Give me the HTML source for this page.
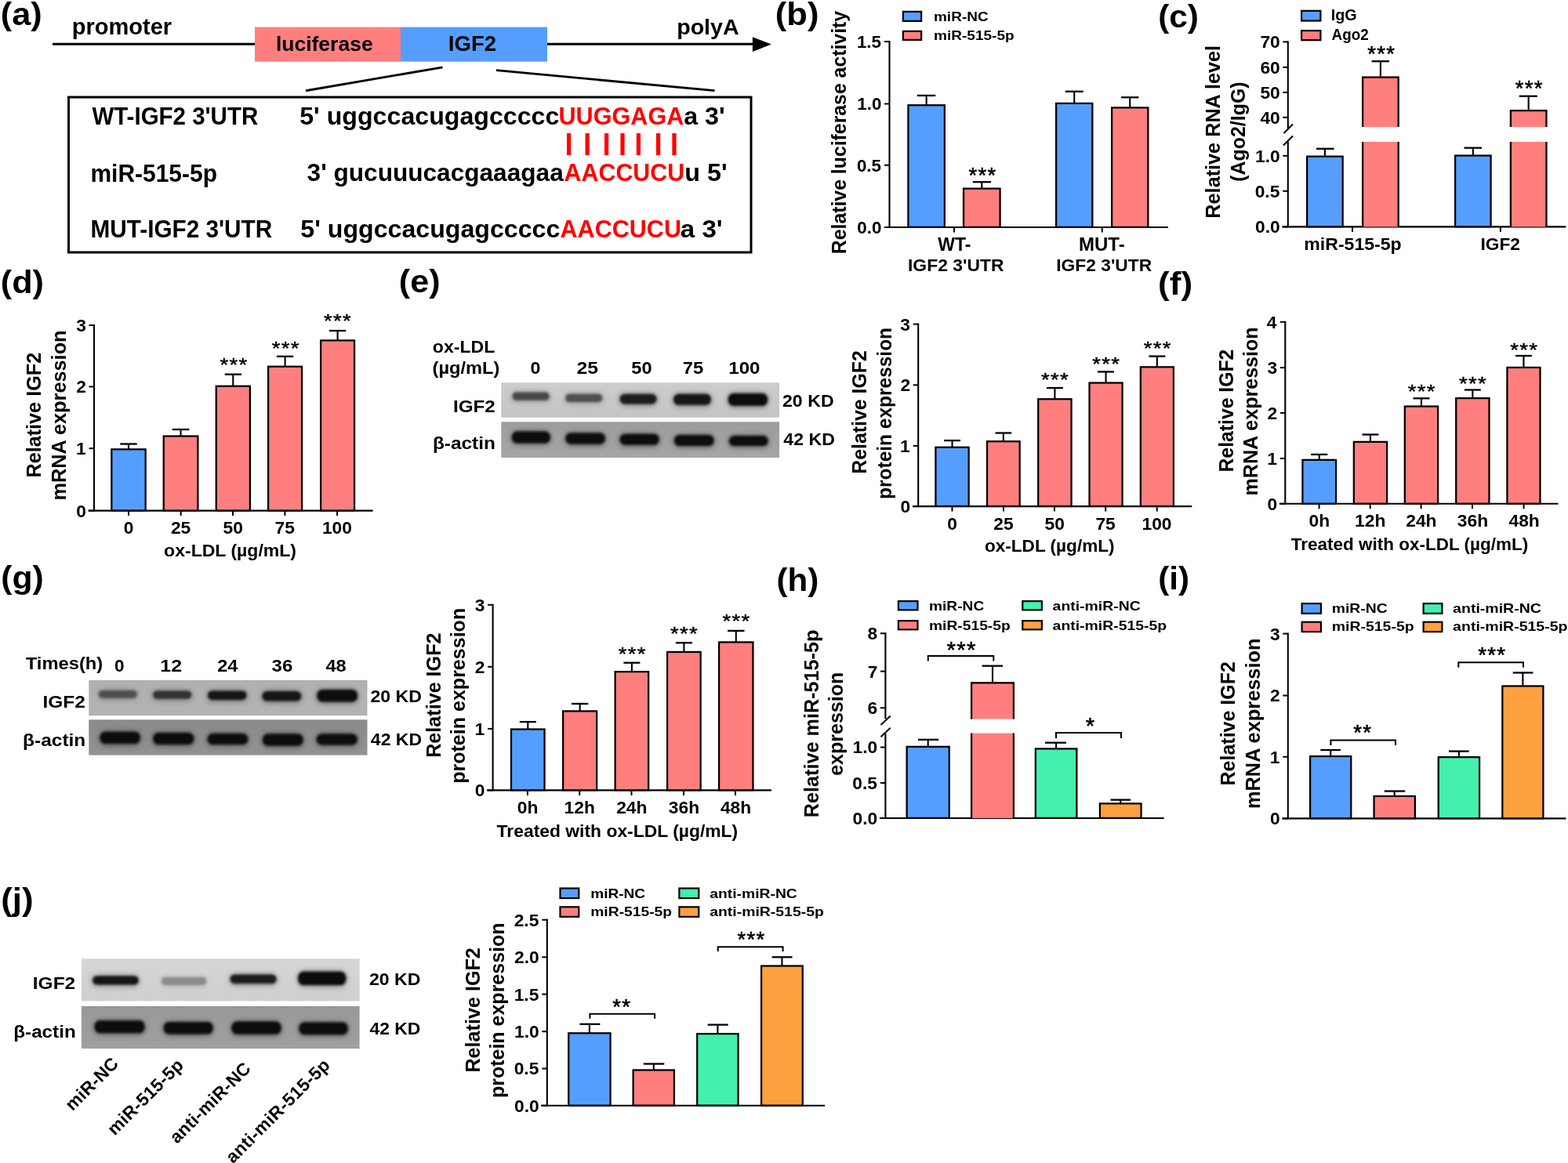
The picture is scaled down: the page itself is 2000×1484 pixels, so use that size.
<!DOCTYPE html>
<html><head><meta charset="utf-8"><title>Figure</title>
<style>html,body{margin:0;padding:0;background:#fff;overflow:hidden;} svg{display:block;}</style></head>
<body><svg width="2000" height="1484" viewBox="0 0 2000 1484" font-family="'Liberation Sans', Arial, Helvetica, sans-serif" font-weight="bold">
<defs>
<filter id="blur1" x="-20%" y="-50%" width="140%" height="200%"><feGaussianBlur stdDeviation="1.6"/></filter>
<filter id="blur3" x="-20%" y="-100%" width="140%" height="300%"><feGaussianBlur stdDeviation="3"/></filter>
<filter id="blur2" x="-20%" y="-80%" width="140%" height="260%"><feGaussianBlur stdDeviation="2.2 2.0"/></filter>
<filter id="noise" x="0" y="0" width="100%" height="100%"><feTurbulence type="fractalNoise" baseFrequency="0.08" numOctaves="2" seed="3"/><feColorMatrix type="matrix" values="0 0 0 0 0  0 0 0 0 0  0 0 0 0 0  0 0 0 0.10 0"/><feComposite in2="SourceGraphic" operator="in"/></filter>
</defs>
<rect width="2000" height="1484" fill="#fff"/>
<text transform="translate(0.83,31.72) scale(1.0569,1)" font-size="41.00" fill="#000">(a)</text>
<text x="91.86" y="44.00" font-size="29.00" fill="#000">promoter</text>
<line x1="67.00" y1="56.20" x2="325.00" y2="56.20" stroke="#000" stroke-width="3.1" stroke-linecap="butt"/>
<rect x="325.00" y="34.60" width="186.00" height="44.00" fill="#FF7F7F"/>
<rect x="511.00" y="34.60" width="187.00" height="44.00" fill="#559EFF"/>
<text x="351.89" y="65.00" font-size="26.50" fill="#000">luciferase</text>
<text x="571.80" y="65.00" font-size="27.60" fill="#000">IGF2</text>
<text transform="translate(863.14,43.70) scale(1.0415,1)" font-size="27.50" fill="#000">polyA</text>
<line x1="698.00" y1="56.20" x2="962.00" y2="56.20" stroke="#000" stroke-width="3.1" stroke-linecap="butt"/>
<path d="M959.9,47.3 L983.9,56.5 L959.9,66 Z" fill="#000"/>
<line x1="564.50" y1="85.80" x2="390.00" y2="115.75" stroke="#000" stroke-width="2.8" stroke-linecap="butt"/>
<line x1="633.00" y1="89.70" x2="911.60" y2="115.70" stroke="#000" stroke-width="2.8" stroke-linecap="butt"/>
<rect x="87.50" y="124.00" width="870.50" height="198.00" fill="none" stroke="#000" stroke-width="3.0"/>
<text transform="translate(117.40,159.10) scale(0.9424,1)" font-size="31.30" fill="#000">WT-IGF2 3&#39;UTR</text>
<text transform="translate(115.45,231.50) scale(0.9576,1)" font-size="31.30" fill="#000">miR-515-5p</text>
<text transform="translate(115.47,303.00) scale(0.9508,1)" font-size="31.30" fill="#000">MUT-IGF2 3&#39;UTR</text>
<text transform="translate(382.24,158.60) scale(1.0177,1)" font-size="31.60" fill="#000">5&#39; uggccacugagccccc</text>
<text transform="translate(712.46,158.60) scale(0.9688,1)" font-size="31.60" fill="#FF0000">UUGGAGA</text>
<text transform="translate(872.13,158.60) scale(1.0200,1)" font-size="31.60" fill="#000">a 3&#39;</text>
<text x="391.61" y="231.00" font-size="31.60" fill="#000">3&#39; gucuuucacgaaagaa</text>
<text transform="translate(719.54,231.00) scale(0.9627,1)" font-size="31.60" fill="#FF0000">AACCUCU</text>
<text transform="translate(873.36,231.00) scale(1.0219,1)" font-size="31.60" fill="#000">u 5&#39;</text>
<text transform="translate(383.34,303.00) scale(1.0174,1)" font-size="31.60" fill="#000">5&#39; uggccacugagccccc</text>
<text transform="translate(714.54,303.00) scale(0.9672,1)" font-size="31.60" fill="#FF0000">AACCUCU</text>
<text transform="translate(867.81,303.00) scale(1.0487,1)" font-size="31.60" fill="#000">a 3&#39;</text>
<rect x="723.00" y="170.00" width="5.20" height="28.00" fill="#FF0000"/>
<rect x="746.50" y="170.00" width="5.20" height="28.00" fill="#FF0000"/>
<rect x="771.00" y="170.00" width="5.20" height="28.00" fill="#FF0000"/>
<rect x="791.40" y="170.00" width="5.20" height="28.00" fill="#FF0000"/>
<rect x="811.80" y="170.00" width="5.20" height="28.00" fill="#FF0000"/>
<rect x="837.00" y="170.00" width="5.20" height="28.00" fill="#FF0000"/>
<rect x="857.40" y="170.00" width="5.20" height="28.00" fill="#FF0000"/>
<text transform="translate(988.82,32.22) scale(1.0645,1)" font-size="41.00" fill="#000">(b)</text>
<rect x="1151.85" y="14.85" width="23.30" height="12.05" fill="#559EFF" stroke="#000" stroke-width="2.2"/>
<text transform="translate(1190.96,27.00) scale(1.0995,1)" font-size="17.30" fill="#000">miR-NC</text>
<rect x="1151.85" y="39.85" width="23.30" height="11.05" fill="#FF7F7F" stroke="#000" stroke-width="2.2"/>
<text transform="translate(1190.96,51.20) scale(1.1025,1)" font-size="17.30" fill="#000">miR-515-5p</text>
<line x1="1134.50" y1="52.00" x2="1134.50" y2="291.00" stroke="#000" stroke-width="2.1" stroke-linecap="butt"/>
<line x1="1128.00" y1="53.00" x2="1134.50" y2="53.00" stroke="#000" stroke-width="2.0" stroke-linecap="butt"/>
<text x="1092.92" y="60.84" font-size="22.40" fill="#000">1.5</text>
<line x1="1128.00" y1="132.50" x2="1134.50" y2="132.50" stroke="#000" stroke-width="2.0" stroke-linecap="butt"/>
<text x="1093.26" y="140.34" font-size="22.40" fill="#000">1.0</text>
<line x1="1128.00" y1="210.75" x2="1134.50" y2="210.75" stroke="#000" stroke-width="2.0" stroke-linecap="butt"/>
<text x="1092.92" y="218.59" font-size="22.40" fill="#000">0.5</text>
<line x1="1128.00" y1="290.00" x2="1134.50" y2="290.00" stroke="#000" stroke-width="2.0" stroke-linecap="butt"/>
<text x="1093.26" y="297.84" font-size="22.40" fill="#000">0.0</text>
<line x1="1133.50" y1="290.00" x2="1490.00" y2="290.00" stroke="#000" stroke-width="2.1" stroke-linecap="butt"/>
<line x1="1217.00" y1="290.00" x2="1217.00" y2="296.50" stroke="#000" stroke-width="2.0" stroke-linecap="butt"/>
<line x1="1405.75" y1="290.00" x2="1405.75" y2="296.50" stroke="#000" stroke-width="2.0" stroke-linecap="butt"/>
<line x1="1181.65" y1="134.10" x2="1181.65" y2="121.90" stroke="#000" stroke-width="2.1" stroke-linecap="butt"/>
<line x1="1169.80" y1="121.90" x2="1193.30" y2="121.90" stroke="#000" stroke-width="2.3" stroke-linecap="butt"/>
<rect x="1158.42" y="134.22" width="46.45" height="155.65" fill="#559EFF" stroke="#000" stroke-width="2.25"/>
<line x1="1252.30" y1="240.50" x2="1252.30" y2="232.20" stroke="#000" stroke-width="2.1" stroke-linecap="butt"/>
<line x1="1240.80" y1="232.20" x2="1264.10" y2="232.20" stroke="#000" stroke-width="2.3" stroke-linecap="butt"/>
<rect x="1229.03" y="240.62" width="46.55" height="49.25" fill="#FF7F7F" stroke="#000" stroke-width="2.25"/>
<line x1="1370.25" y1="131.75" x2="1370.25" y2="116.75" stroke="#000" stroke-width="2.1" stroke-linecap="butt"/>
<line x1="1358.75" y1="116.75" x2="1381.75" y2="116.75" stroke="#000" stroke-width="2.3" stroke-linecap="butt"/>
<rect x="1347.12" y="131.88" width="46.25" height="158.00" fill="#559EFF" stroke="#000" stroke-width="2.25"/>
<line x1="1441.25" y1="137.25" x2="1441.25" y2="124.25" stroke="#000" stroke-width="2.1" stroke-linecap="butt"/>
<line x1="1430.00" y1="124.25" x2="1452.50" y2="124.25" stroke="#000" stroke-width="2.3" stroke-linecap="butt"/>
<rect x="1418.12" y="137.38" width="46.25" height="152.50" fill="#FF7F7F" stroke="#000" stroke-width="2.25"/>
<text x="1253.55" y="233.27" font-size="27.5" font-weight="normal" text-anchor="middle" letter-spacing="1.3" stroke="#000" stroke-width="0.55">***</text>
<text transform="translate(1079.30,324.21) rotate(-90) scale(0.9330,1)" font-size="26.60">Relative luciferase activity</text>
<text x="1196.25" y="320.00" font-size="23.00" fill="#000">WT-</text>
<text x="1158.01" y="346.00" font-size="22.90" fill="#000">IGF2 3&#39;UTR</text>
<text transform="translate(1375.94,320.00) scale(1.0452,1)" font-size="23.00" fill="#000">MUT-</text>
<text transform="translate(1347.27,346.00) scale(0.9953,1)" font-size="22.90" fill="#000">IGF2 3&#39;UTR</text>
<text transform="translate(1477.18,35.02) scale(1.0341,1)" font-size="41.00" fill="#000">(c)</text>
<rect x="1660.10" y="13.80" width="24.30" height="12.70" fill="#559EFF" stroke="#000" stroke-width="2.2"/>
<text transform="translate(1697.71,25.90) scale(1.0157,1)" font-size="19.50" fill="#000">IgG</text>
<rect x="1660.10" y="39.10" width="24.30" height="12.10" fill="#FF7F7F" stroke="#000" stroke-width="2.2"/>
<text transform="translate(1698.53,51.20) scale(0.9667,1)" font-size="19.50" fill="#000">Ago2</text>
<line x1="1642.80" y1="52.40" x2="1642.80" y2="164.00" stroke="#000" stroke-width="2.1" stroke-linecap="butt"/>
<line x1="1636.30" y1="53.40" x2="1642.80" y2="53.40" stroke="#000" stroke-width="2.0" stroke-linecap="butt"/>
<text x="1607.40" y="61.38" font-size="22.80" fill="#000">70</text>
<line x1="1636.30" y1="85.80" x2="1642.80" y2="85.80" stroke="#000" stroke-width="2.0" stroke-linecap="butt"/>
<text x="1607.40" y="93.78" font-size="22.80" fill="#000">60</text>
<line x1="1636.30" y1="117.90" x2="1642.80" y2="117.90" stroke="#000" stroke-width="2.0" stroke-linecap="butt"/>
<text x="1607.40" y="125.88" font-size="22.80" fill="#000">50</text>
<line x1="1636.30" y1="149.80" x2="1642.80" y2="149.80" stroke="#000" stroke-width="2.0" stroke-linecap="butt"/>
<text x="1607.40" y="157.78" font-size="22.80" fill="#000">40</text>
<line x1="1642.80" y1="181.00" x2="1642.80" y2="290.40" stroke="#000" stroke-width="2.1" stroke-linecap="butt"/>
<line x1="1636.30" y1="198.80" x2="1642.80" y2="198.80" stroke="#000" stroke-width="2.0" stroke-linecap="butt"/>
<text x="1601.02" y="206.78" font-size="22.80" fill="#000">1.0</text>
<line x1="1636.30" y1="243.80" x2="1642.80" y2="243.80" stroke="#000" stroke-width="2.0" stroke-linecap="butt"/>
<text x="1600.68" y="251.78" font-size="22.80" fill="#000">0.5</text>
<line x1="1636.30" y1="289.40" x2="1642.80" y2="289.40" stroke="#000" stroke-width="2.0" stroke-linecap="butt"/>
<text x="1601.02" y="297.38" font-size="22.80" fill="#000">0.0</text>
<line x1="1637.50" y1="170.00" x2="1649.00" y2="158.50" stroke="#000" stroke-width="2.1" stroke-linecap="butt"/>
<line x1="1637.00" y1="185.50" x2="1649.00" y2="173.50" stroke="#000" stroke-width="2.1" stroke-linecap="butt"/>
<line x1="1635.30" y1="289.40" x2="1997.40" y2="289.40" stroke="#000" stroke-width="2.1" stroke-linecap="butt"/>
<line x1="1725.00" y1="289.40" x2="1725.00" y2="295.90" stroke="#000" stroke-width="2.0" stroke-linecap="butt"/>
<line x1="1913.90" y1="289.40" x2="1913.90" y2="295.90" stroke="#000" stroke-width="2.0" stroke-linecap="butt"/>
<line x1="1689.90" y1="199.50" x2="1689.90" y2="189.80" stroke="#000" stroke-width="2.1" stroke-linecap="butt"/>
<line x1="1679.00" y1="189.80" x2="1701.50" y2="189.80" stroke="#000" stroke-width="2.3" stroke-linecap="butt"/>
<rect x="1667.12" y="199.62" width="45.55" height="89.65" fill="#559EFF" stroke="#000" stroke-width="2.25"/>
<line x1="1760.90" y1="98.50" x2="1760.90" y2="78.20" stroke="#000" stroke-width="2.1" stroke-linecap="butt"/>
<line x1="1749.60" y1="78.20" x2="1772.00" y2="78.20" stroke="#000" stroke-width="2.3" stroke-linecap="butt"/>
<rect x="1737.00" y="97.50" width="47.80" height="64.50" fill="#FF7F7F"/>
<rect x="1737.00" y="181.00" width="47.80" height="108.40" fill="#FF7F7F"/>
<path d="M1738.12,162.00 V98.62 H1783.67 V162.00 M1738.12,181.00 V289.40 M1783.67,181.00 V289.40" fill="none" stroke="#000" stroke-width="2.25"/>
<line x1="1878.85" y1="198.40" x2="1878.85" y2="188.70" stroke="#000" stroke-width="2.1" stroke-linecap="butt"/>
<line x1="1867.50" y1="188.70" x2="1890.00" y2="188.70" stroke="#000" stroke-width="2.3" stroke-linecap="butt"/>
<rect x="1856.12" y="198.53" width="45.45" height="90.75" fill="#559EFF" stroke="#000" stroke-width="2.25"/>
<line x1="1949.65" y1="140.90" x2="1949.65" y2="122.70" stroke="#000" stroke-width="2.1" stroke-linecap="butt"/>
<line x1="1937.70" y1="122.70" x2="1960.80" y2="122.70" stroke="#000" stroke-width="2.3" stroke-linecap="butt"/>
<rect x="1925.80" y="139.90" width="47.70" height="22.10" fill="#FF7F7F"/>
<rect x="1925.80" y="181.00" width="47.70" height="108.40" fill="#FF7F7F"/>
<path d="M1926.92,162.00 V141.03 H1972.38 V162.00 M1926.92,181.00 V289.40 M1972.38,181.00 V289.40" fill="none" stroke="#000" stroke-width="2.25"/>
<text x="1762.15" y="78.38" font-size="27.5" font-weight="normal" text-anchor="middle" letter-spacing="1.3" stroke="#000" stroke-width="0.55">***</text>
<text x="1950.65" y="121.98" font-size="27.5" font-weight="normal" text-anchor="middle" letter-spacing="1.3" stroke="#000" stroke-width="0.55">***</text>
<text transform="translate(1663.30,319.10) scale(1.0125,1)" font-size="22.80" fill="#000">miR-515-5p</text>
<text transform="translate(1888.52,319.10) scale(0.9954,1)" font-size="22.80" fill="#000">IGF2</text>
<text transform="translate(1555.90,278.64) rotate(-90) scale(0.9492,1)" font-size="26.60">Relative RNA level</text>
<text transform="translate(1588.00,231.75) rotate(-90) scale(0.9380,1)" font-size="26.60">(Ago2/IgG)</text>
<text transform="translate(0.84,374.23) scale(1.0542,1)" font-size="41.00" fill="#000">(d)</text>
<line x1="120.00" y1="414.00" x2="120.00" y2="652.60" stroke="#000" stroke-width="2.1" stroke-linecap="butt"/>
<line x1="113.50" y1="415.00" x2="120.00" y2="415.00" stroke="#000" stroke-width="2.0" stroke-linecap="butt"/>
<text x="97.14" y="422.98" font-size="22.80" fill="#000">3</text>
<line x1="113.50" y1="493.40" x2="120.00" y2="493.40" stroke="#000" stroke-width="2.0" stroke-linecap="butt"/>
<text x="97.26" y="501.38" font-size="22.80" fill="#000">2</text>
<line x1="113.50" y1="572.20" x2="120.00" y2="572.20" stroke="#000" stroke-width="2.0" stroke-linecap="butt"/>
<text x="96.92" y="580.18" font-size="22.80" fill="#000">1</text>
<line x1="113.50" y1="651.60" x2="120.00" y2="651.60" stroke="#000" stroke-width="2.0" stroke-linecap="butt"/>
<text x="97.26" y="659.58" font-size="22.80" fill="#000">0</text>
<line x1="112.50" y1="651.60" x2="475.60" y2="651.60" stroke="#000" stroke-width="2.1" stroke-linecap="butt"/>
<line x1="164.00" y1="651.60" x2="164.00" y2="658.10" stroke="#000" stroke-width="2.0" stroke-linecap="butt"/>
<line x1="230.70" y1="651.60" x2="230.70" y2="658.10" stroke="#000" stroke-width="2.0" stroke-linecap="butt"/>
<line x1="297.00" y1="651.60" x2="297.00" y2="658.10" stroke="#000" stroke-width="2.0" stroke-linecap="butt"/>
<line x1="363.40" y1="651.60" x2="363.40" y2="658.10" stroke="#000" stroke-width="2.0" stroke-linecap="butt"/>
<line x1="430.10" y1="651.60" x2="430.10" y2="658.10" stroke="#000" stroke-width="2.0" stroke-linecap="butt"/>
<line x1="164.00" y1="573.20" x2="164.00" y2="566.50" stroke="#000" stroke-width="2.1" stroke-linecap="butt"/>
<line x1="153.28" y1="566.50" x2="174.72" y2="566.50" stroke="#000" stroke-width="2.3" stroke-linecap="butt"/>
<rect x="142.32" y="573.33" width="43.35" height="78.15" fill="#559EFF" stroke="#000" stroke-width="2.25"/>
<line x1="230.55" y1="556.40" x2="230.55" y2="548.00" stroke="#000" stroke-width="2.1" stroke-linecap="butt"/>
<line x1="219.76" y1="548.00" x2="241.34" y2="548.00" stroke="#000" stroke-width="2.3" stroke-linecap="butt"/>
<rect x="208.72" y="556.52" width="43.65" height="94.95" fill="#FF7F7F" stroke="#000" stroke-width="2.25"/>
<line x1="297.30" y1="492.60" x2="297.30" y2="477.70" stroke="#000" stroke-width="2.1" stroke-linecap="butt"/>
<line x1="286.63" y1="477.70" x2="307.97" y2="477.70" stroke="#000" stroke-width="2.3" stroke-linecap="butt"/>
<rect x="275.73" y="492.73" width="43.15" height="158.75" fill="#FF7F7F" stroke="#000" stroke-width="2.25"/>
<line x1="363.60" y1="467.60" x2="363.60" y2="454.80" stroke="#000" stroke-width="2.1" stroke-linecap="butt"/>
<line x1="352.98" y1="454.80" x2="374.22" y2="454.80" stroke="#000" stroke-width="2.3" stroke-linecap="butt"/>
<rect x="342.12" y="467.73" width="42.95" height="183.75" fill="#FF7F7F" stroke="#000" stroke-width="2.25"/>
<line x1="430.60" y1="434.30" x2="430.60" y2="422.00" stroke="#000" stroke-width="2.1" stroke-linecap="butt"/>
<line x1="419.98" y1="422.00" x2="441.22" y2="422.00" stroke="#000" stroke-width="2.3" stroke-linecap="butt"/>
<rect x="409.12" y="434.43" width="42.95" height="217.05" fill="#FF7F7F" stroke="#000" stroke-width="2.25"/>
<g transform="translate(0,466.70) scale(1,0.84) translate(0,-466.70)">
<text x="298.45" y="475.77" font-size="27.5" font-weight="normal" text-anchor="middle" letter-spacing="1.3" stroke="#000" stroke-width="0.55">***</text>
</g>
<g transform="translate(0,445.30) scale(1,0.84) translate(0,-445.30)">
<text x="364.85" y="454.38" font-size="27.5" font-weight="normal" text-anchor="middle" letter-spacing="1.3" stroke="#000" stroke-width="0.55">***</text>
</g>
<g transform="translate(0,410.70) scale(1,0.84) translate(0,-410.70)">
<text x="430.95" y="419.77" font-size="27.5" font-weight="normal" text-anchor="middle" letter-spacing="1.3" stroke="#000" stroke-width="0.55">***</text>
</g>
<text x="157.67" y="681.00" font-size="22.80" fill="#000">0</text>
<text x="217.93" y="681.00" font-size="22.80" fill="#000">25</text>
<text x="284.46" y="681.00" font-size="22.80" fill="#000">50</text>
<text x="350.57" y="681.00" font-size="22.80" fill="#000">75</text>
<text x="410.89" y="681.00" font-size="22.80" fill="#000">100</text>
<text transform="translate(209.08,709.70) scale(1.0110,1)" font-size="22.80" fill="#000">ox-LDL (µg/mL)</text>
<text transform="translate(51.60,609.54) rotate(-90) scale(0.9480,1)" font-size="26.60">Relative IGF2</text>
<text transform="translate(83.70,638.45) rotate(-90) scale(0.9516,1)" font-size="26.60">mRNA expression</text>
<text transform="translate(508.84,372.73) scale(1.0515,1)" font-size="41.00" fill="#000">(e)</text>
<text transform="translate(551.77,449.70) scale(1.0149,1)" font-size="22.80" fill="#000">ox-LDL</text>
<text transform="translate(551.52,476.70) scale(1.0372,1)" font-size="22.80" fill="#000">(µg/mL)</text>
<text transform="translate(676.57,477.20) scale(1.0157,1)" font-size="22.80" fill="#000">0</text>
<text transform="translate(735.53,477.20) scale(1.0902,1)" font-size="22.80" fill="#000">25</text>
<text transform="translate(805.29,477.20) scale(1.0374,1)" font-size="22.80" fill="#000">50</text>
<text transform="translate(870.85,477.20) scale(1.0451,1)" font-size="22.80" fill="#000">75</text>
<text transform="translate(929.25,477.20) scale(1.0566,1)" font-size="22.80" fill="#000">100</text>
<linearGradient id="bg1" x1="0" y1="0" x2="0" y2="1"><stop offset="0" stop-color="#cdcdcd"/><stop offset="1" stop-color="#c4c4c4"/></linearGradient>
<rect x="639.30" y="488.20" width="354.80" height="44.60" fill="url(#bg1)"/>
<g filter="url(#blur3)" opacity="0.35">
<rect x="652.10" y="499.40" width="50.10" height="14.20" rx="7.10" ry="7.10" fill="#4a4a4a"/>
<rect x="719.70" y="501.60" width="50.10" height="14.20" rx="7.10" ry="7.10" fill="#505050"/>
<rect x="789.00" y="501.60" width="50.10" height="16.60" rx="8.30" ry="8.30" fill="#1c1c1c"/>
<rect x="857.50" y="501.60" width="51.00" height="17.90" rx="8.95" ry="8.95" fill="#161616"/>
<rect x="927.20" y="500.70" width="53.50" height="19.90" rx="9.95" ry="9.95" fill="#101010"/>
</g>
<g filter="url(#blur1)">
<rect x="653.60" y="500.60" width="47.10" height="10.20" rx="5.10" ry="5.10" fill="#4a4a4a"/>
<rect x="721.20" y="502.80" width="47.10" height="10.20" rx="5.10" ry="5.10" fill="#505050"/>
<rect x="790.50" y="502.80" width="47.10" height="12.60" rx="6.30" ry="6.30" fill="#1c1c1c"/>
<rect x="859.00" y="502.80" width="48.00" height="13.90" rx="6.50" ry="6.95" fill="#161616"/>
<rect x="928.70" y="501.90" width="50.50" height="15.90" rx="6.50" ry="7.95" fill="#101010"/>
</g>
<linearGradient id="bg2" x1="0" y1="0" x2="0" y2="1"><stop offset="0" stop-color="#9c9c9c"/><stop offset="1" stop-color="#a6a6a6"/></linearGradient>
<rect x="639.30" y="538.30" width="354.80" height="45.70" fill="url(#bg2)"/>
<g filter="url(#blur3)" opacity="0.35">
<rect x="651.20" y="549.40" width="52.30" height="18.80" rx="9.40" ry="9.40" fill="#0c0c0c"/>
<rect x="719.70" y="551.20" width="53.80" height="18.30" rx="9.15" ry="9.15" fill="#0c0c0c"/>
<rect x="789.00" y="552.60" width="53.30" height="18.00" rx="9.00" ry="9.00" fill="#0c0c0c"/>
<rect x="858.40" y="553.80" width="53.80" height="18.10" rx="9.05" ry="9.05" fill="#0c0c0c"/>
<rect x="928.40" y="554.90" width="52.80" height="17.00" rx="8.50" ry="8.50" fill="#0c0c0c"/>
</g>
<g filter="url(#blur1)">
<rect x="652.70" y="550.60" width="49.30" height="14.80" rx="6.50" ry="7.40" fill="#0c0c0c"/>
<rect x="721.20" y="552.40" width="50.80" height="14.30" rx="6.50" ry="7.15" fill="#0c0c0c"/>
<rect x="790.50" y="553.80" width="50.30" height="14.00" rx="6.50" ry="7.00" fill="#0c0c0c"/>
<rect x="859.90" y="555.00" width="50.80" height="14.10" rx="6.50" ry="7.05" fill="#0c0c0c"/>
<rect x="929.90" y="556.10" width="49.80" height="13.00" rx="6.50" ry="6.50" fill="#0c0c0c"/>
</g>
<text transform="translate(578.03,526.20) scale(1.0618,1)" font-size="22.80" fill="#000">IGF2</text>
<text transform="translate(551.89,573.00) scale(1.0724,1)" font-size="22.80" fill="#000">β-actin</text>
<text transform="translate(997.99,518.50) scale(1.0157,1)" font-size="22.80" fill="#000">20 KD</text>
<text transform="translate(999.35,567.80) scale(1.0163,1)" font-size="22.80" fill="#000">42 KD</text>
<line x1="1171.20" y1="412.60" x2="1171.20" y2="647.10" stroke="#000" stroke-width="2.1" stroke-linecap="butt"/>
<line x1="1164.70" y1="413.60" x2="1171.20" y2="413.60" stroke="#000" stroke-width="2.0" stroke-linecap="butt"/>
<text x="1148.34" y="421.58" font-size="22.80" fill="#000">3</text>
<line x1="1164.70" y1="491.30" x2="1171.20" y2="491.30" stroke="#000" stroke-width="2.0" stroke-linecap="butt"/>
<text x="1148.46" y="499.28" font-size="22.80" fill="#000">2</text>
<line x1="1164.70" y1="568.90" x2="1171.20" y2="568.90" stroke="#000" stroke-width="2.0" stroke-linecap="butt"/>
<text x="1148.12" y="576.88" font-size="22.80" fill="#000">1</text>
<line x1="1164.70" y1="646.10" x2="1171.20" y2="646.10" stroke="#000" stroke-width="2.0" stroke-linecap="butt"/>
<text x="1148.46" y="654.08" font-size="22.80" fill="#000">0</text>
<line x1="1164.00" y1="646.10" x2="1520.30" y2="646.10" stroke="#000" stroke-width="2.1" stroke-linecap="butt"/>
<line x1="1214.50" y1="646.10" x2="1214.50" y2="652.60" stroke="#000" stroke-width="2.0" stroke-linecap="butt"/>
<line x1="1280.00" y1="646.10" x2="1280.00" y2="652.60" stroke="#000" stroke-width="2.0" stroke-linecap="butt"/>
<line x1="1345.00" y1="646.10" x2="1345.00" y2="652.60" stroke="#000" stroke-width="2.0" stroke-linecap="butt"/>
<line x1="1410.20" y1="646.10" x2="1410.20" y2="652.60" stroke="#000" stroke-width="2.0" stroke-linecap="butt"/>
<line x1="1475.70" y1="646.10" x2="1475.70" y2="652.60" stroke="#000" stroke-width="2.0" stroke-linecap="butt"/>
<line x1="1214.55" y1="570.60" x2="1214.55" y2="562.10" stroke="#000" stroke-width="2.1" stroke-linecap="butt"/>
<line x1="1204.09" y1="562.10" x2="1225.01" y2="562.10" stroke="#000" stroke-width="2.3" stroke-linecap="butt"/>
<rect x="1193.42" y="570.73" width="42.25" height="75.25" fill="#559EFF" stroke="#000" stroke-width="2.25"/>
<line x1="1279.85" y1="563.10" x2="1279.85" y2="552.50" stroke="#000" stroke-width="2.1" stroke-linecap="butt"/>
<line x1="1269.53" y1="552.50" x2="1290.17" y2="552.50" stroke="#000" stroke-width="2.3" stroke-linecap="butt"/>
<rect x="1259.03" y="563.23" width="41.65" height="82.75" fill="#FF7F7F" stroke="#000" stroke-width="2.25"/>
<line x1="1345.40" y1="509.10" x2="1345.40" y2="495.00" stroke="#000" stroke-width="2.1" stroke-linecap="butt"/>
<line x1="1334.92" y1="495.00" x2="1355.88" y2="495.00" stroke="#000" stroke-width="2.3" stroke-linecap="butt"/>
<rect x="1324.22" y="509.23" width="42.35" height="136.75" fill="#FF7F7F" stroke="#000" stroke-width="2.25"/>
<line x1="1410.55" y1="488.40" x2="1410.55" y2="474.40" stroke="#000" stroke-width="2.1" stroke-linecap="butt"/>
<line x1="1400.14" y1="474.40" x2="1420.96" y2="474.40" stroke="#000" stroke-width="2.3" stroke-linecap="butt"/>
<rect x="1389.53" y="488.52" width="42.05" height="157.45" fill="#FF7F7F" stroke="#000" stroke-width="2.25"/>
<line x1="1475.85" y1="468.20" x2="1475.85" y2="454.60" stroke="#000" stroke-width="2.1" stroke-linecap="butt"/>
<line x1="1465.44" y1="454.60" x2="1486.26" y2="454.60" stroke="#000" stroke-width="2.3" stroke-linecap="butt"/>
<rect x="1454.83" y="468.32" width="42.05" height="177.65" fill="#FF7F7F" stroke="#000" stroke-width="2.25"/>
<g transform="translate(0,485.20) scale(1,0.84) translate(0,-485.20)">
<text x="1346.05" y="494.27" font-size="27.5" font-weight="normal" text-anchor="middle" letter-spacing="1.3" stroke="#000" stroke-width="0.55">***</text>
</g>
<g transform="translate(0,464.90) scale(1,0.84) translate(0,-464.90)">
<text x="1411.15" y="473.97" font-size="27.5" font-weight="normal" text-anchor="middle" letter-spacing="1.3" stroke="#000" stroke-width="0.55">***</text>
</g>
<g transform="translate(0,445.80) scale(1,0.84) translate(0,-445.80)">
<text x="1476.65" y="454.88" font-size="27.5" font-weight="normal" text-anchor="middle" letter-spacing="1.3" stroke="#000" stroke-width="0.55">***</text>
</g>
<text x="1208.17" y="675.60" font-size="22.80" fill="#000">0</text>
<text x="1267.23" y="675.60" font-size="22.80" fill="#000">25</text>
<text x="1332.46" y="675.60" font-size="22.80" fill="#000">50</text>
<text x="1397.38" y="675.60" font-size="22.80" fill="#000">75</text>
<text x="1456.49" y="675.60" font-size="22.80" fill="#000">100</text>
<text transform="translate(1255.90,703.90) scale(0.9916,1)" font-size="22.80" fill="#000">ox-LDL (µg/mL)</text>
<text transform="translate(1105.10,604.82) rotate(-90) scale(0.9365,1)" font-size="26.60">Relative IGF2</text>
<text transform="translate(1136.60,636.89) rotate(-90) scale(0.9207,1)" font-size="26.60">protein expression</text>
<text transform="translate(1477.09,375.73) scale(1.0759,1)" font-size="41.00" fill="#000">(f)</text>
<line x1="1639.30" y1="409.80" x2="1639.30" y2="643.80" stroke="#000" stroke-width="2.1" stroke-linecap="butt"/>
<line x1="1632.80" y1="410.80" x2="1639.30" y2="410.80" stroke="#000" stroke-width="2.0" stroke-linecap="butt"/>
<text x="1615.76" y="418.78" font-size="22.80" fill="#000">4</text>
<line x1="1632.80" y1="469.10" x2="1639.30" y2="469.10" stroke="#000" stroke-width="2.0" stroke-linecap="butt"/>
<text x="1616.44" y="477.08" font-size="22.80" fill="#000">3</text>
<line x1="1632.80" y1="526.90" x2="1639.30" y2="526.90" stroke="#000" stroke-width="2.0" stroke-linecap="butt"/>
<text x="1616.56" y="534.88" font-size="22.80" fill="#000">2</text>
<line x1="1632.80" y1="585.00" x2="1639.30" y2="585.00" stroke="#000" stroke-width="2.0" stroke-linecap="butt"/>
<text x="1616.22" y="592.98" font-size="22.80" fill="#000">1</text>
<line x1="1632.80" y1="642.80" x2="1639.30" y2="642.80" stroke="#000" stroke-width="2.0" stroke-linecap="butt"/>
<text x="1616.56" y="650.78" font-size="22.80" fill="#000">0</text>
<line x1="1631.80" y1="642.80" x2="1987.50" y2="642.80" stroke="#000" stroke-width="2.1" stroke-linecap="butt"/>
<line x1="1682.60" y1="642.80" x2="1682.60" y2="649.30" stroke="#000" stroke-width="2.0" stroke-linecap="butt"/>
<line x1="1747.70" y1="642.80" x2="1747.70" y2="649.30" stroke="#000" stroke-width="2.0" stroke-linecap="butt"/>
<line x1="1812.60" y1="642.80" x2="1812.60" y2="649.30" stroke="#000" stroke-width="2.0" stroke-linecap="butt"/>
<line x1="1878.00" y1="642.80" x2="1878.00" y2="649.30" stroke="#000" stroke-width="2.0" stroke-linecap="butt"/>
<line x1="1943.60" y1="642.80" x2="1943.60" y2="649.30" stroke="#000" stroke-width="2.0" stroke-linecap="butt"/>
<line x1="1682.75" y1="586.70" x2="1682.75" y2="579.90" stroke="#000" stroke-width="2.1" stroke-linecap="butt"/>
<line x1="1672.20" y1="579.90" x2="1693.30" y2="579.90" stroke="#000" stroke-width="2.3" stroke-linecap="butt"/>
<rect x="1661.42" y="586.83" width="42.65" height="55.85" fill="#559EFF" stroke="#000" stroke-width="2.25"/>
<line x1="1747.95" y1="563.70" x2="1747.95" y2="554.50" stroke="#000" stroke-width="2.1" stroke-linecap="butt"/>
<line x1="1737.49" y1="554.50" x2="1758.41" y2="554.50" stroke="#000" stroke-width="2.3" stroke-linecap="butt"/>
<rect x="1726.83" y="563.83" width="42.25" height="78.85" fill="#FF7F7F" stroke="#000" stroke-width="2.25"/>
<line x1="1812.95" y1="518.40" x2="1812.95" y2="508.30" stroke="#000" stroke-width="2.1" stroke-linecap="butt"/>
<line x1="1802.49" y1="508.30" x2="1823.41" y2="508.30" stroke="#000" stroke-width="2.3" stroke-linecap="butt"/>
<rect x="1791.83" y="518.52" width="42.25" height="124.15" fill="#FF7F7F" stroke="#000" stroke-width="2.25"/>
<line x1="1878.35" y1="508.00" x2="1878.35" y2="497.50" stroke="#000" stroke-width="2.1" stroke-linecap="butt"/>
<line x1="1867.89" y1="497.50" x2="1888.81" y2="497.50" stroke="#000" stroke-width="2.3" stroke-linecap="butt"/>
<rect x="1857.22" y="508.12" width="42.25" height="134.55" fill="#FF7F7F" stroke="#000" stroke-width="2.25"/>
<line x1="1943.45" y1="468.80" x2="1943.45" y2="454.00" stroke="#000" stroke-width="2.1" stroke-linecap="butt"/>
<line x1="1933.04" y1="454.00" x2="1953.86" y2="454.00" stroke="#000" stroke-width="2.3" stroke-linecap="butt"/>
<rect x="1922.42" y="468.93" width="42.05" height="173.75" fill="#FF7F7F" stroke="#000" stroke-width="2.25"/>
<g transform="translate(0,500.40) scale(1,0.84) translate(0,-500.40)">
<text x="1813.65" y="509.47" font-size="27.5" font-weight="normal" text-anchor="middle" letter-spacing="1.3" stroke="#000" stroke-width="0.55">***</text>
</g>
<g transform="translate(0,490.10) scale(1,0.84) translate(0,-490.10)">
<text x="1879.05" y="499.18" font-size="27.5" font-weight="normal" text-anchor="middle" letter-spacing="1.3" stroke="#000" stroke-width="0.55">***</text>
</g>
<g transform="translate(0,447.40) scale(1,0.84) translate(0,-447.40)">
<text x="1944.15" y="456.47" font-size="27.5" font-weight="normal" text-anchor="middle" letter-spacing="1.3" stroke="#000" stroke-width="0.55">***</text>
</g>
<text x="1669.55" y="671.90" font-size="22.80" fill="#000">0h</text>
<text x="1728.09" y="671.90" font-size="22.80" fill="#000">12h</text>
<text x="1793.28" y="671.90" font-size="22.80" fill="#000">24h</text>
<text x="1858.79" y="671.90" font-size="22.80" fill="#000">36h</text>
<text x="1924.50" y="671.90" font-size="22.80" fill="#000">48h</text>
<text transform="translate(1646.77,702.30) scale(0.9869,1)" font-size="22.80" fill="#000">Treated with ox-LDL (µg/mL)</text>
<text transform="translate(1573.00,602.51) rotate(-90) scale(0.9311,1)" font-size="26.60">Relative IGF2</text>
<text transform="translate(1604.00,632.43) rotate(-90) scale(0.9432,1)" font-size="26.60">mRNA expression</text>
<text transform="translate(1.26,750.93) scale(1.0418,1)" font-size="41.00" fill="#000">(g)</text>
<text transform="translate(32.76,854.20) scale(1.0423,1)" font-size="22.80" fill="#000">Times(h)</text>
<text transform="translate(146.10,857.00) scale(0.9880,1)" font-size="22.80" fill="#000">0</text>
<text transform="translate(204.30,857.00) scale(1.0943,1)" font-size="22.80" fill="#000">12</text>
<text transform="translate(277.17,857.00) scale(1.0371,1)" font-size="22.80" fill="#000">24</text>
<text transform="translate(346.60,857.00) scale(1.0526,1)" font-size="22.80" fill="#000">36</text>
<text transform="translate(415.45,857.00) scale(1.0378,1)" font-size="22.80" fill="#000">48</text>
<linearGradient id="bg3" x1="0" y1="0" x2="0" y2="1"><stop offset="0" stop-color="#b0b0b0"/><stop offset="1" stop-color="#b3b3b3"/></linearGradient>
<rect x="113.30" y="867.80" width="355.20" height="45.30" fill="url(#bg3)"/>
<g filter="url(#blur3)" opacity="0.35">
<rect x="124.40" y="879.80" width="51.90" height="13.80" rx="6.90" ry="6.90" fill="#505050"/>
<rect x="193.70" y="880.20" width="52.00" height="14.30" rx="7.15" ry="7.15" fill="#303030"/>
<rect x="263.50" y="880.20" width="52.50" height="15.60" rx="7.80" ry="7.80" fill="#191919"/>
<rect x="333.00" y="880.70" width="52.70" height="16.60" rx="8.30" ry="8.30" fill="#141414"/>
<rect x="402.80" y="878.90" width="54.70" height="19.30" rx="9.65" ry="9.65" fill="#0c0c0c"/>
</g>
<g filter="url(#blur1)">
<rect x="125.90" y="881.00" width="48.90" height="9.80" rx="4.90" ry="4.90" fill="#505050"/>
<rect x="195.20" y="881.40" width="49.00" height="10.30" rx="5.15" ry="5.15" fill="#303030"/>
<rect x="265.00" y="881.40" width="49.50" height="11.60" rx="5.80" ry="5.80" fill="#191919"/>
<rect x="334.50" y="881.90" width="49.70" height="12.60" rx="6.30" ry="6.30" fill="#141414"/>
<rect x="404.30" y="880.10" width="51.70" height="15.30" rx="6.50" ry="7.65" fill="#0c0c0c"/>
</g>
<linearGradient id="bg4" x1="0" y1="0" x2="0" y2="1"><stop offset="0" stop-color="#8a8a8a"/><stop offset="1" stop-color="#929292"/></linearGradient>
<rect x="113.30" y="918.30" width="355.20" height="45.30" fill="url(#bg4)"/>
<g filter="url(#blur3)" opacity="0.35">
<rect x="125.80" y="932.60" width="54.60" height="19.30" rx="9.65" ry="9.65" fill="#0c0c0c"/>
<rect x="193.70" y="933.80" width="55.10" height="19.00" rx="9.50" ry="9.50" fill="#0c0c0c"/>
<rect x="263.10" y="934.90" width="54.70" height="17.90" rx="8.95" ry="8.95" fill="#0c0c0c"/>
<rect x="333.40" y="935.30" width="54.80" height="19.00" rx="9.50" ry="9.50" fill="#0c0c0c"/>
<rect x="402.20" y="935.30" width="55.00" height="17.90" rx="8.95" ry="8.95" fill="#0c0c0c"/>
</g>
<g filter="url(#blur1)">
<rect x="127.30" y="933.80" width="51.60" height="15.30" rx="6.50" ry="7.65" fill="#0c0c0c"/>
<rect x="195.20" y="935.00" width="52.10" height="15.00" rx="6.50" ry="7.50" fill="#0c0c0c"/>
<rect x="264.60" y="936.10" width="51.70" height="13.90" rx="6.50" ry="6.95" fill="#0c0c0c"/>
<rect x="334.90" y="936.50" width="51.80" height="15.00" rx="6.50" ry="7.50" fill="#0c0c0c"/>
<rect x="403.70" y="936.50" width="52.00" height="13.90" rx="6.50" ry="6.95" fill="#0c0c0c"/>
</g>
<text transform="translate(54.41,903.20) scale(1.0742,1)" font-size="22.80" fill="#000">IGF2</text>
<text transform="translate(29.09,952.20) scale(1.0738,1)" font-size="22.80" fill="#000">β-actin</text>
<text transform="translate(472.39,896.20) scale(1.0157,1)" font-size="22.80" fill="#000">20 KD</text>
<text transform="translate(472.85,950.80) scale(1.0100,1)" font-size="22.80" fill="#000">42 KD</text>
<line x1="628.60" y1="770.80" x2="628.60" y2="1009.40" stroke="#000" stroke-width="2.1" stroke-linecap="butt"/>
<line x1="622.10" y1="771.80" x2="628.60" y2="771.80" stroke="#000" stroke-width="2.0" stroke-linecap="butt"/>
<text x="605.74" y="779.78" font-size="22.80" fill="#000">3</text>
<line x1="622.10" y1="850.80" x2="628.60" y2="850.80" stroke="#000" stroke-width="2.0" stroke-linecap="butt"/>
<text x="605.86" y="858.78" font-size="22.80" fill="#000">2</text>
<line x1="622.10" y1="929.90" x2="628.60" y2="929.90" stroke="#000" stroke-width="2.0" stroke-linecap="butt"/>
<text x="605.52" y="937.88" font-size="22.80" fill="#000">1</text>
<line x1="622.10" y1="1008.40" x2="628.60" y2="1008.40" stroke="#000" stroke-width="2.0" stroke-linecap="butt"/>
<text x="605.86" y="1016.38" font-size="22.80" fill="#000">0</text>
<line x1="621.10" y1="1008.40" x2="984.00" y2="1008.40" stroke="#000" stroke-width="2.1" stroke-linecap="butt"/>
<line x1="672.90" y1="1008.40" x2="672.90" y2="1014.90" stroke="#000" stroke-width="2.0" stroke-linecap="butt"/>
<line x1="739.20" y1="1008.40" x2="739.20" y2="1014.90" stroke="#000" stroke-width="2.0" stroke-linecap="butt"/>
<line x1="805.50" y1="1008.40" x2="805.50" y2="1014.90" stroke="#000" stroke-width="2.0" stroke-linecap="butt"/>
<line x1="872.00" y1="1008.40" x2="872.00" y2="1014.90" stroke="#000" stroke-width="2.0" stroke-linecap="butt"/>
<line x1="938.00" y1="1008.40" x2="938.00" y2="1014.90" stroke="#000" stroke-width="2.0" stroke-linecap="butt"/>
<line x1="673.30" y1="930.40" x2="673.30" y2="921.10" stroke="#000" stroke-width="2.1" stroke-linecap="butt"/>
<line x1="662.77" y1="921.10" x2="683.83" y2="921.10" stroke="#000" stroke-width="2.3" stroke-linecap="butt"/>
<rect x="652.02" y="930.52" width="42.55" height="77.75" fill="#559EFF" stroke="#000" stroke-width="2.25"/>
<line x1="739.65" y1="907.30" x2="739.65" y2="898.00" stroke="#000" stroke-width="2.1" stroke-linecap="butt"/>
<line x1="729.00" y1="898.00" x2="750.30" y2="898.00" stroke="#000" stroke-width="2.3" stroke-linecap="butt"/>
<rect x="718.12" y="907.42" width="43.05" height="100.85" fill="#FF7F7F" stroke="#000" stroke-width="2.25"/>
<line x1="805.90" y1="857.00" x2="805.90" y2="845.70" stroke="#000" stroke-width="2.1" stroke-linecap="butt"/>
<line x1="795.37" y1="845.70" x2="816.43" y2="845.70" stroke="#000" stroke-width="2.3" stroke-linecap="butt"/>
<rect x="784.62" y="857.12" width="42.55" height="151.15" fill="#FF7F7F" stroke="#000" stroke-width="2.25"/>
<line x1="872.40" y1="831.80" x2="872.40" y2="820.20" stroke="#000" stroke-width="2.1" stroke-linecap="butt"/>
<line x1="861.87" y1="820.20" x2="882.93" y2="820.20" stroke="#000" stroke-width="2.3" stroke-linecap="butt"/>
<rect x="851.12" y="831.92" width="42.55" height="176.35" fill="#FF7F7F" stroke="#000" stroke-width="2.25"/>
<line x1="938.80" y1="819.30" x2="938.80" y2="804.90" stroke="#000" stroke-width="2.1" stroke-linecap="butt"/>
<line x1="928.08" y1="804.90" x2="949.52" y2="804.90" stroke="#000" stroke-width="2.3" stroke-linecap="butt"/>
<rect x="917.12" y="819.42" width="43.35" height="188.85" fill="#FF7F7F" stroke="#000" stroke-width="2.25"/>
<g transform="translate(0,835.10) scale(1,0.84) translate(0,-835.10)">
<text x="806.65" y="844.18" font-size="27.5" font-weight="normal" text-anchor="middle" letter-spacing="1.3" stroke="#000" stroke-width="0.55">***</text>
</g>
<g transform="translate(0,809.20) scale(1,0.84) translate(0,-809.20)">
<text x="873.05" y="818.28" font-size="27.5" font-weight="normal" text-anchor="middle" letter-spacing="1.3" stroke="#000" stroke-width="0.55">***</text>
</g>
<g transform="translate(0,793.80) scale(1,0.84) translate(0,-793.80)">
<text x="939.45" y="802.88" font-size="27.5" font-weight="normal" text-anchor="middle" letter-spacing="1.3" stroke="#000" stroke-width="0.55">***</text>
</g>
<text x="659.85" y="1037.60" font-size="22.80" fill="#000">0h</text>
<text x="719.59" y="1037.60" font-size="22.80" fill="#000">12h</text>
<text x="786.18" y="1037.60" font-size="22.80" fill="#000">24h</text>
<text x="852.79" y="1037.60" font-size="22.80" fill="#000">36h</text>
<text x="918.90" y="1037.60" font-size="22.80" fill="#000">48h</text>
<text transform="translate(633.57,1068.30) scale(1.0043,1)" font-size="22.80" fill="#000">Treated with ox-LDL (µg/mL)</text>
<text transform="translate(561.70,966.84) rotate(-90) scale(0.9462,1)" font-size="26.60">Relative IGF2</text>
<text transform="translate(593.20,999.83) rotate(-90) scale(0.9416,1)" font-size="26.60">protein expression</text>
<text transform="translate(990.39,753.73) scale(1.0294,1)" font-size="41.00" fill="#000">(h)</text>
<rect x="1145.90" y="767.10" width="24.60" height="11.20" fill="#559EFF" stroke="#000" stroke-width="2.2"/>
<text transform="translate(1184.95,779.20) scale(1.1092,1)" font-size="17.30" fill="#000">miR-NC</text>
<rect x="1145.90" y="792.10" width="24.60" height="11.20" fill="#FF7F7F" stroke="#000" stroke-width="2.2"/>
<text transform="translate(1184.95,803.50) scale(1.1134,1)" font-size="17.30" fill="#000">miR-515-5p</text>
<rect x="1304.30" y="767.10" width="24.60" height="11.20" fill="#43F0AE" stroke="#000" stroke-width="2.2"/>
<text transform="translate(1342.62,779.20) scale(1.1227,1)" font-size="17.30" fill="#000">anti-miR-NC</text>
<rect x="1304.30" y="792.10" width="24.60" height="11.20" fill="#FFA040" stroke="#000" stroke-width="2.2"/>
<text transform="translate(1342.62,803.50) scale(1.1218,1)" font-size="17.30" fill="#000">anti-miR-515-5p</text>
<line x1="1129.40" y1="807.20" x2="1129.40" y2="917.30" stroke="#000" stroke-width="2.1" stroke-linecap="butt"/>
<line x1="1122.90" y1="808.20" x2="1129.40" y2="808.20" stroke="#000" stroke-width="2.0" stroke-linecap="butt"/>
<text x="1106.43" y="816.18" font-size="22.80" fill="#000">8</text>
<line x1="1122.90" y1="856.60" x2="1129.40" y2="856.60" stroke="#000" stroke-width="2.0" stroke-linecap="butt"/>
<text x="1106.66" y="864.58" font-size="22.80" fill="#000">7</text>
<line x1="1122.90" y1="903.30" x2="1129.40" y2="903.30" stroke="#000" stroke-width="2.0" stroke-linecap="butt"/>
<text x="1106.54" y="911.28" font-size="22.80" fill="#000">6</text>
<line x1="1129.40" y1="936.20" x2="1129.40" y2="1045.00" stroke="#000" stroke-width="2.1" stroke-linecap="butt"/>
<line x1="1122.90" y1="953.50" x2="1129.40" y2="953.50" stroke="#000" stroke-width="2.0" stroke-linecap="butt"/>
<text x="1087.62" y="961.48" font-size="22.80" fill="#000">1.0</text>
<line x1="1122.90" y1="999.00" x2="1129.40" y2="999.00" stroke="#000" stroke-width="2.0" stroke-linecap="butt"/>
<text x="1087.28" y="1006.98" font-size="22.80" fill="#000">0.5</text>
<line x1="1122.90" y1="1044.00" x2="1129.40" y2="1044.00" stroke="#000" stroke-width="2.0" stroke-linecap="butt"/>
<text x="1087.62" y="1051.98" font-size="22.80" fill="#000">0.0</text>
<line x1="1123.50" y1="925.10" x2="1135.70" y2="913.60" stroke="#000" stroke-width="2.1" stroke-linecap="butt"/>
<line x1="1123.50" y1="940.30" x2="1135.70" y2="928.70" stroke="#000" stroke-width="2.1" stroke-linecap="butt"/>
<line x1="1121.90" y1="1044.00" x2="1484.70" y2="1044.00" stroke="#000" stroke-width="2.1" stroke-linecap="butt"/>
<line x1="1183.70" y1="952.70" x2="1183.70" y2="943.80" stroke="#000" stroke-width="2.1" stroke-linecap="butt"/>
<line x1="1170.90" y1="943.80" x2="1197.30" y2="943.80" stroke="#000" stroke-width="2.3" stroke-linecap="butt"/>
<rect x="1156.62" y="952.83" width="54.15" height="91.05" fill="#559EFF" stroke="#000" stroke-width="2.25"/>
<line x1="1266.00" y1="871.20" x2="1266.00" y2="849.70" stroke="#000" stroke-width="2.1" stroke-linecap="butt"/>
<line x1="1252.70" y1="849.70" x2="1279.00" y2="849.70" stroke="#000" stroke-width="2.3" stroke-linecap="butt"/>
<rect x="1238.00" y="870.20" width="56.00" height="47.20" fill="#FF7F7F"/>
<rect x="1238.00" y="935.60" width="56.00" height="108.40" fill="#FF7F7F"/>
<path d="M1239.12,917.40 V871.33 H1292.88 V917.40 M1239.12,935.60 V1044.00 M1292.88,935.60 V1044.00" fill="none" stroke="#000" stroke-width="2.25"/>
<line x1="1347.10" y1="955.30" x2="1347.10" y2="947.70" stroke="#000" stroke-width="2.1" stroke-linecap="butt"/>
<line x1="1333.00" y1="947.70" x2="1359.90" y2="947.70" stroke="#000" stroke-width="2.3" stroke-linecap="butt"/>
<rect x="1320.83" y="955.42" width="52.55" height="88.45" fill="#43F0AE" stroke="#000" stroke-width="2.25"/>
<line x1="1429.25" y1="1025.20" x2="1429.25" y2="1020.60" stroke="#000" stroke-width="2.1" stroke-linecap="butt"/>
<line x1="1416.50" y1="1020.60" x2="1442.00" y2="1020.60" stroke="#000" stroke-width="2.3" stroke-linecap="butt"/>
<rect x="1402.92" y="1025.33" width="52.65" height="18.55" fill="#FFA040" stroke="#000" stroke-width="2.25"/>
<path d="M1183.80,843.40 V837.00 H1267.30 V843.40" fill="none" stroke="#000" stroke-width="2.0"/>
<text x="1226.65" y="838.63" font-size="29.5" font-weight="normal" text-anchor="middle" letter-spacing="1.3" stroke="#000" stroke-width="0.55">***</text>
<path d="M1347.00,942.00 V935.00 H1430.00 V942.00" fill="none" stroke="#000" stroke-width="2.0"/>
<text x="1391.15" y="936.13" font-size="29.5" font-weight="normal" text-anchor="middle" letter-spacing="1.3" stroke="#000" stroke-width="0.55">*</text>
<text transform="translate(1043.50,1043.24) rotate(-90) scale(0.9486,1)" font-size="26.60">Relative miR-515-5p</text>
<text transform="translate(1075.20,989.80) rotate(-90) scale(0.9406,1)" font-size="26.60">expression</text>
<text transform="translate(1477.19,751.73) scale(1.0305,1)" font-size="41.00" fill="#000">(i)</text>
<rect x="1660.60" y="770.10" width="24.30" height="12.70" fill="#559EFF" stroke="#000" stroke-width="2.2"/>
<text transform="translate(1698.74,782.00) scale(1.1189,1)" font-size="17.30" fill="#000">miR-NC</text>
<rect x="1660.60" y="793.70" width="24.30" height="12.40" fill="#FF7F7F" stroke="#000" stroke-width="2.2"/>
<text transform="translate(1698.73,804.90) scale(1.1254,1)" font-size="17.30" fill="#000">miR-515-5p</text>
<rect x="1815.60" y="770.10" width="23.80" height="12.70" fill="#43F0AE" stroke="#000" stroke-width="2.2"/>
<text transform="translate(1853.11,782.00) scale(1.1298,1)" font-size="17.30" fill="#000">anti-miR-NC</text>
<rect x="1815.60" y="793.70" width="23.80" height="12.40" fill="#FFA040" stroke="#000" stroke-width="2.2"/>
<text transform="translate(1853.11,804.90) scale(1.1281,1)" font-size="17.30" fill="#000">anti-miR-515-5p</text>
<line x1="1642.80" y1="807.60" x2="1642.80" y2="1045.40" stroke="#000" stroke-width="2.1" stroke-linecap="butt"/>
<line x1="1636.30" y1="808.60" x2="1642.80" y2="808.60" stroke="#000" stroke-width="2.0" stroke-linecap="butt"/>
<text x="1619.94" y="816.58" font-size="22.80" fill="#000">3</text>
<line x1="1636.30" y1="887.50" x2="1642.80" y2="887.50" stroke="#000" stroke-width="2.0" stroke-linecap="butt"/>
<text x="1620.06" y="895.48" font-size="22.80" fill="#000">2</text>
<line x1="1636.30" y1="965.70" x2="1642.80" y2="965.70" stroke="#000" stroke-width="2.0" stroke-linecap="butt"/>
<text x="1619.72" y="973.68" font-size="22.80" fill="#000">1</text>
<line x1="1636.30" y1="1044.40" x2="1642.80" y2="1044.40" stroke="#000" stroke-width="2.0" stroke-linecap="butt"/>
<text x="1620.06" y="1052.38" font-size="22.80" fill="#000">0</text>
<line x1="1635.30" y1="1044.40" x2="1997.40" y2="1044.40" stroke="#000" stroke-width="2.1" stroke-linecap="butt"/>
<line x1="1697.20" y1="964.90" x2="1697.20" y2="957.00" stroke="#000" stroke-width="2.1" stroke-linecap="butt"/>
<line x1="1684.30" y1="957.00" x2="1710.00" y2="957.00" stroke="#000" stroke-width="2.3" stroke-linecap="butt"/>
<rect x="1671.12" y="965.02" width="52.15" height="79.25" fill="#559EFF" stroke="#000" stroke-width="2.25"/>
<line x1="1778.70" y1="1015.80" x2="1778.70" y2="1009.50" stroke="#000" stroke-width="2.1" stroke-linecap="butt"/>
<line x1="1765.80" y1="1009.50" x2="1792.30" y2="1009.50" stroke="#000" stroke-width="2.3" stroke-linecap="butt"/>
<rect x="1752.53" y="1015.92" width="52.35" height="28.35" fill="#FF7F7F" stroke="#000" stroke-width="2.25"/>
<line x1="1860.90" y1="966.00" x2="1860.90" y2="958.60" stroke="#000" stroke-width="2.1" stroke-linecap="butt"/>
<line x1="1848.00" y1="958.60" x2="1873.70" y2="958.60" stroke="#000" stroke-width="2.3" stroke-linecap="butt"/>
<rect x="1834.72" y="966.12" width="52.35" height="78.15" fill="#43F0AE" stroke="#000" stroke-width="2.25"/>
<line x1="1942.35" y1="875.30" x2="1942.35" y2="858.40" stroke="#000" stroke-width="2.1" stroke-linecap="butt"/>
<line x1="1929.70" y1="858.40" x2="1955.40" y2="858.40" stroke="#000" stroke-width="2.3" stroke-linecap="butt"/>
<rect x="1916.33" y="875.42" width="52.05" height="168.85" fill="#FFA040" stroke="#000" stroke-width="2.25"/>
<path d="M1697.40,951.00 V944.50 H1780.00 V951.00" fill="none" stroke="#000" stroke-width="2.0"/>
<text x="1738.35" y="944.08" font-size="27.5" font-weight="normal" text-anchor="middle" letter-spacing="1.3" stroke="#000" stroke-width="0.55">**</text>
<path d="M1860.30,851.80 V845.20 H1943.00 V851.80" fill="none" stroke="#000" stroke-width="2.0"/>
<text x="1903.15" y="844.68" font-size="27.5" font-weight="normal" text-anchor="middle" letter-spacing="1.3" stroke="#000" stroke-width="0.55">***</text>
<text transform="translate(1574.70,1002.42) rotate(-90) scale(0.9389,1)" font-size="26.60">Relative IGF2</text>
<text transform="translate(1606.90,1032.05) rotate(-90) scale(0.9539,1)" font-size="26.60">mRNA expression</text>
<text transform="translate(1.20,1161.92) scale(1.0737,1)" font-size="41.00" fill="#000">(j)</text>
<linearGradient id="bg5" x1="0" y1="0" x2="0" y2="1"><stop offset="0" stop-color="#d6d6d6"/><stop offset="1" stop-color="#cfcfcf"/></linearGradient>
<rect x="103.90" y="1223.30" width="354.70" height="54.00" fill="url(#bg5)"/>
<g filter="url(#blur3)" opacity="0.35">
<rect x="116.60" y="1244.10" width="61.70" height="15.20" rx="7.60" ry="7.60" fill="#161616"/>
<rect x="204.60" y="1245.90" width="60.10" height="13.80" rx="6.90" ry="6.90" fill="#8c8c8c"/>
<rect x="292.00" y="1242.20" width="62.10" height="15.70" rx="7.85" ry="7.85" fill="#1e1e1e"/>
<rect x="378.50" y="1238.50" width="64.40" height="21.20" rx="10.00" ry="10.60" fill="#0c0c0c"/>
</g>
<g filter="url(#blur1)">
<rect x="118.10" y="1245.30" width="58.70" height="11.20" rx="5.60" ry="5.60" fill="#161616"/>
<rect x="206.10" y="1247.10" width="57.10" height="9.80" rx="4.90" ry="4.90" fill="#8c8c8c"/>
<rect x="293.50" y="1243.40" width="59.10" height="11.70" rx="5.85" ry="5.85" fill="#1e1e1e"/>
<rect x="380.00" y="1239.70" width="61.40" height="17.20" rx="6.50" ry="8.60" fill="#0c0c0c"/>
</g>
<linearGradient id="bg6" x1="0" y1="0" x2="0" y2="1"><stop offset="0" stop-color="#989898"/><stop offset="1" stop-color="#a0a0a0"/></linearGradient>
<rect x="103.90" y="1283.80" width="354.70" height="54.20" fill="url(#bg6)"/>
<g filter="url(#blur3)" opacity="0.35">
<rect x="119.00" y="1301.00" width="67.10" height="20.10" rx="10.00" ry="10.05" fill="#0c0c0c"/>
<rect x="207.20" y="1302.90" width="66.00" height="19.30" rx="9.65" ry="9.65" fill="#0c0c0c"/>
<rect x="293.80" y="1302.30" width="66.40" height="20.30" rx="10.00" ry="10.15" fill="#0c0c0c"/>
<rect x="379.80" y="1303.30" width="65.50" height="19.70" rx="9.85" ry="9.85" fill="#0c0c0c"/>
</g>
<g filter="url(#blur1)">
<rect x="120.50" y="1302.20" width="64.10" height="16.10" rx="6.50" ry="8.05" fill="#0c0c0c"/>
<rect x="208.70" y="1304.10" width="63.00" height="15.30" rx="6.50" ry="7.65" fill="#0c0c0c"/>
<rect x="295.30" y="1303.50" width="63.40" height="16.30" rx="6.50" ry="8.15" fill="#0c0c0c"/>
<rect x="381.30" y="1304.50" width="62.50" height="15.70" rx="6.50" ry="7.85" fill="#0c0c0c"/>
</g>
<text transform="translate(41.81,1261.80) scale(1.0742,1)" font-size="22.80" fill="#000">IGF2</text>
<text transform="translate(17.30,1324.00) scale(1.0627,1)" font-size="22.80" fill="#000">β-actin</text>
<text transform="translate(470.99,1256.80) scale(1.0125,1)" font-size="22.80" fill="#000">20 KD</text>
<text transform="translate(471.46,1320.40) scale(1.0052,1)" font-size="22.80" fill="#000">42 KD</text>
<text transform="translate(152.5,1358.5) rotate(-45)" font-size="22.8" text-anchor="end" letter-spacing="0.2">miR-NC</text>
<text transform="translate(235.5,1360.5) rotate(-45)" font-size="22.8" text-anchor="end" letter-spacing="0.35">miR-515-5p</text>
<text transform="translate(321.5,1364.5) rotate(-45)" font-size="22.8" text-anchor="end" letter-spacing="0.35">anti-miR-NC</text>
<text transform="translate(422.3,1360.3) rotate(-45)" font-size="22.8" text-anchor="end" letter-spacing="0.4">anti-miR-515-5p</text>
<rect x="714.50" y="1133.50" width="23.80" height="12.60" fill="#559EFF" stroke="#000" stroke-width="2.2"/>
<text transform="translate(753.26,1145.70) scale(1.1011,1)" font-size="17.30" fill="#000">miR-NC</text>
<rect x="714.50" y="1157.30" width="23.80" height="12.50" fill="#FF7F7F" stroke="#000" stroke-width="2.2"/>
<text transform="translate(753.25,1168.90) scale(1.1145,1)" font-size="17.30" fill="#000">miR-515-5p</text>
<rect x="866.40" y="1133.50" width="24.90" height="12.60" fill="#43F0AE" stroke="#000" stroke-width="2.2"/>
<text transform="translate(905.22,1145.70) scale(1.1167,1)" font-size="17.30" fill="#000">anti-miR-NC</text>
<rect x="866.40" y="1157.30" width="24.90" height="12.50" fill="#FFA040" stroke="#000" stroke-width="2.2"/>
<text transform="translate(905.22,1168.90) scale(1.1226,1)" font-size="17.30" fill="#000">anti-miR-515-5p</text>
<line x1="697.80" y1="1172.70" x2="697.80" y2="1411.70" stroke="#000" stroke-width="2.1" stroke-linecap="butt"/>
<line x1="691.30" y1="1173.70" x2="697.80" y2="1173.70" stroke="#000" stroke-width="2.0" stroke-linecap="butt"/>
<text x="655.68" y="1181.68" font-size="22.80" fill="#000">2.5</text>
<line x1="691.30" y1="1221.30" x2="697.80" y2="1221.30" stroke="#000" stroke-width="2.0" stroke-linecap="butt"/>
<text x="656.02" y="1229.28" font-size="22.80" fill="#000">2.0</text>
<line x1="691.30" y1="1268.60" x2="697.80" y2="1268.60" stroke="#000" stroke-width="2.0" stroke-linecap="butt"/>
<text x="655.68" y="1276.58" font-size="22.80" fill="#000">1.5</text>
<line x1="691.30" y1="1316.20" x2="697.80" y2="1316.20" stroke="#000" stroke-width="2.0" stroke-linecap="butt"/>
<text x="656.02" y="1324.18" font-size="22.80" fill="#000">1.0</text>
<line x1="691.30" y1="1363.50" x2="697.80" y2="1363.50" stroke="#000" stroke-width="2.0" stroke-linecap="butt"/>
<text x="655.68" y="1371.48" font-size="22.80" fill="#000">0.5</text>
<line x1="691.30" y1="1410.70" x2="697.80" y2="1410.70" stroke="#000" stroke-width="2.0" stroke-linecap="butt"/>
<text x="656.02" y="1418.68" font-size="22.80" fill="#000">0.0</text>
<line x1="690.20" y1="1410.70" x2="1052.20" y2="1410.70" stroke="#000" stroke-width="2.1" stroke-linecap="butt"/>
<line x1="751.90" y1="1318.20" x2="751.90" y2="1306.80" stroke="#000" stroke-width="2.1" stroke-linecap="butt"/>
<line x1="739.40" y1="1306.80" x2="765.40" y2="1306.80" stroke="#000" stroke-width="2.3" stroke-linecap="butt"/>
<rect x="725.23" y="1318.33" width="53.35" height="92.25" fill="#559EFF" stroke="#000" stroke-width="2.25"/>
<line x1="833.80" y1="1365.30" x2="833.80" y2="1357.50" stroke="#000" stroke-width="2.1" stroke-linecap="butt"/>
<line x1="820.80" y1="1357.50" x2="847.30" y2="1357.50" stroke="#000" stroke-width="2.3" stroke-linecap="butt"/>
<rect x="807.62" y="1365.42" width="52.35" height="45.15" fill="#FF7F7F" stroke="#000" stroke-width="2.25"/>
<line x1="915.40" y1="1319.00" x2="915.40" y2="1307.60" stroke="#000" stroke-width="2.1" stroke-linecap="butt"/>
<line x1="902.70" y1="1307.60" x2="928.70" y2="1307.60" stroke="#000" stroke-width="2.3" stroke-linecap="butt"/>
<rect x="889.23" y="1319.12" width="52.35" height="91.45" fill="#43F0AE" stroke="#000" stroke-width="2.25"/>
<line x1="997.45" y1="1232.40" x2="997.45" y2="1221.30" stroke="#000" stroke-width="2.1" stroke-linecap="butt"/>
<line x1="984.60" y1="1221.30" x2="1010.60" y2="1221.30" stroke="#000" stroke-width="2.3" stroke-linecap="butt"/>
<rect x="971.12" y="1232.53" width="52.65" height="178.05" fill="#FFA040" stroke="#000" stroke-width="2.25"/>
<path d="M752.40,1299.80 V1293.80 H835.10 V1299.80" fill="none" stroke="#000" stroke-width="2.0"/>
<text x="793.35" y="1294.28" font-size="27.5" font-weight="normal" text-anchor="middle" letter-spacing="1.3" stroke="#000" stroke-width="0.55">**</text>
<path d="M915.70,1214.00 V1208.30 H998.60 V1214.00" fill="none" stroke="#000" stroke-width="2.0"/>
<text x="958.45" y="1208.48" font-size="27.5" font-weight="normal" text-anchor="middle" letter-spacing="1.3" stroke="#000" stroke-width="0.55">***</text>
<text transform="translate(611.50,1368.54) rotate(-90) scale(0.9462,1)" font-size="26.60">Relative IGF2</text>
<text transform="translate(643.40,1401.03) rotate(-90) scale(0.9398,1)" font-size="26.60">protein expression</text>
</svg></body></html>
